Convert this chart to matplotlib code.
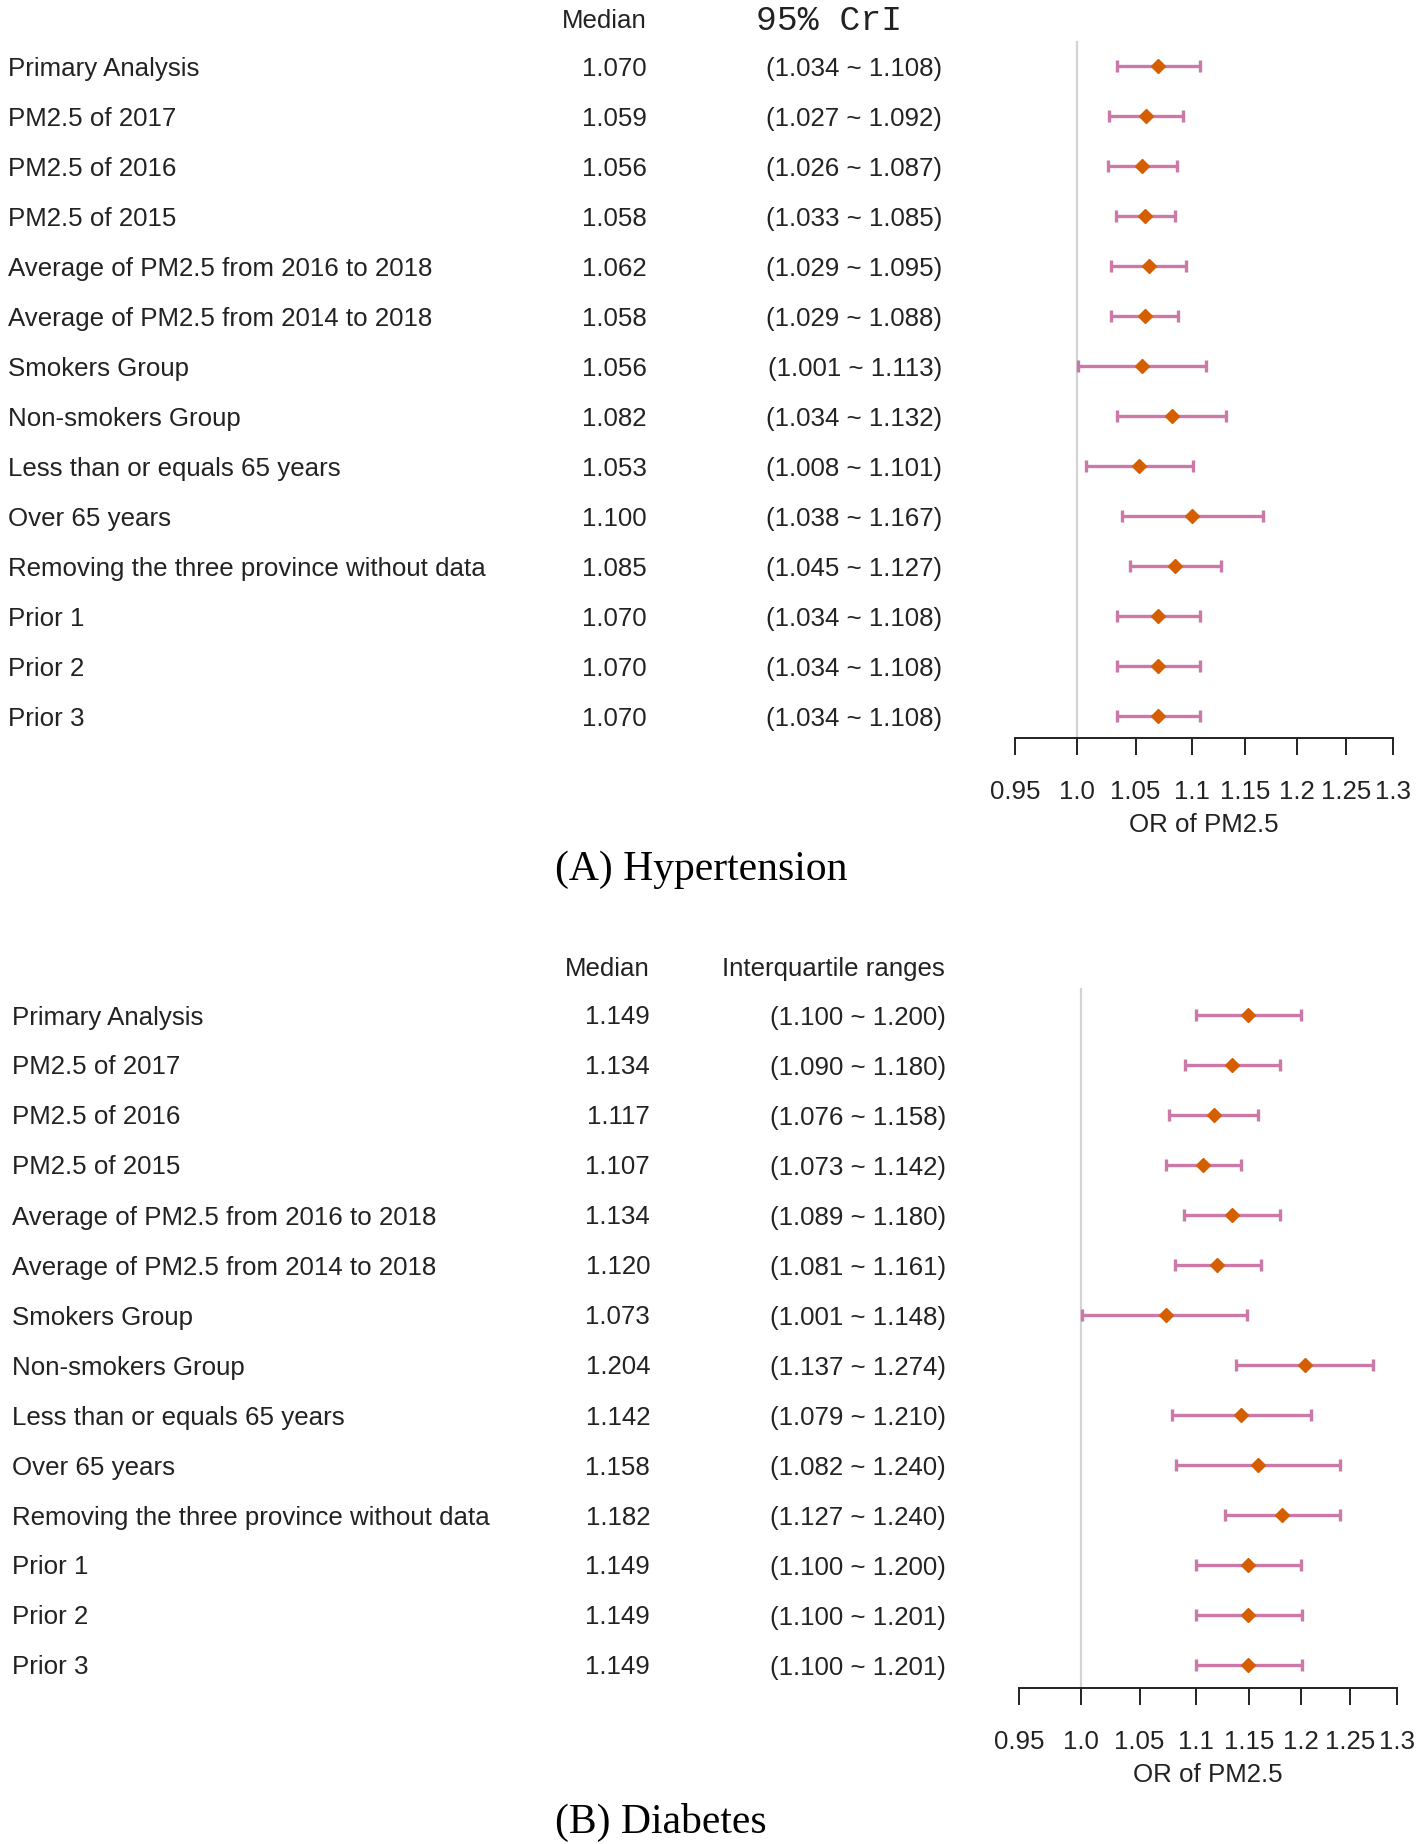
import numpy as np
import matplotlib
matplotlib.use("Agg")
import matplotlib.pyplot as plt
from matplotlib.ticker import FixedLocator, NullLocator
from matplotlib.transforms import blended_transform_factory

# row labels (same for both panels)
labels = [
    "Primary Analysis",
    "PM2.5 of 2017",
    "PM2.5 of 2016",
    "PM2.5 of 2015",
    "Average of PM2.5 from 2016 to 2018",
    "Average of PM2.5 from 2014 to 2018",
    "Smokers Group",
    "Non-smokers Group",
    "Less than or equals 65 years",
    "Over 65 years",
    "Removing the three province without data",
    "Prior 1",
    "Prior 2",
    "Prior 3",
]

# (A) Hypertension: median and 95% CrI
hyp_median = [1.070, 1.059, 1.056, 1.058, 1.062, 1.058, 1.056, 1.082, 1.053, 1.100, 1.085, 1.070, 1.070, 1.070]
hyp_low = [1.034, 1.027, 1.026, 1.033, 1.029, 1.029, 1.001, 1.034, 1.008, 1.038, 1.045, 1.034, 1.034, 1.034]
hyp_high = [1.108, 1.092, 1.087, 1.085, 1.095, 1.088, 1.113, 1.132, 1.101, 1.167, 1.127, 1.108, 1.108, 1.108]

# (B) Diabetes: median and interquartile ranges
dia_median = [1.149, 1.134, 1.117, 1.107, 1.134, 1.120, 1.073, 1.204, 1.142, 1.158, 1.182, 1.149, 1.149, 1.149]
dia_low = [1.100, 1.090, 1.076, 1.073, 1.089, 1.081, 1.001, 1.137, 1.079, 1.082, 1.127, 1.100, 1.100, 1.100]
dia_high = [1.200, 1.180, 1.158, 1.142, 1.180, 1.161, 1.148, 1.274, 1.210, 1.240, 1.240, 1.200, 1.201, 1.201]

x_ticks = [0.95, 1.0, 1.05, 1.1, 1.15, 1.2, 1.25, 1.3]
x_ticklabels = ["0.95", "1.0", "1.05", "1.1", "1.15", "1.2", "1.25", "1.3"]

W, H = 1418, 1844
fig = plt.figure(figsize=(W / 100, H / 100), dpi=100)

SANS = "Liberation Sans"
TXT = "#222222"
PINK = "#CC79A7"
ORANGE = "#D55E00"
FS = 18.6
DY = 0.05  # small downward nudge so text sits on the row like the original


def px_box(left, right, top, bottom):
    return [left / W, 1 - bottom / H, (right - left) / W, (bottom - top) / H]


def forest(box, ylim, lab_x, med_x, ci_x, ci_head, ci_font, ci_head_x, head_row,
           median, low, high, title, title_y):
    ax = fig.add_axes(box)
    rows = np.arange(len(labels))
    med = np.array(median)
    lo = np.array(low)
    hi = np.array(high)

    ax.axvline(1.0, color="#d3d3d3", lw=1.6, zorder=0)
    ax.errorbar(med, rows, xerr=[med - lo, hi - med], fmt="none", ecolor=PINK,
                elinewidth=2.4, capsize=4.5, capthick=2.4, zorder=2)
    ax.plot(med, rows, "D", color=ORANGE, ms=7, zorder=3)

    ax.set_xscale("log")
    ax.set_xlim(0.95, 1.3)
    ax.set_ylim(*ylim)
    ax.xaxis.set_major_locator(FixedLocator(x_ticks))
    ax.xaxis.set_minor_locator(NullLocator())
    ax.set_xticklabels(x_ticklabels, fontsize=FS, family=SANS, color=TXT)
    ax.tick_params(axis="x", length=12, width=1.4, pad=18, color="#222222")
    ax.set_yticks([])
    for s in ["top", "left", "right"]:
        ax.spines[s].set_visible(False)
    ax.spines["bottom"].set_linewidth(1.4)
    ax.spines["bottom"].set_color("#222222")
    ax.set_xlabel("OR of PM2.5", fontsize=FS, family=SANS, color=TXT, labelpad=7)

    tr = blended_transform_factory(fig.transFigure, ax.transData)
    for i, lab in enumerate(labels):
        ax.text(lab_x / W, i + DY, lab, transform=tr, ha="left", va="center",
                fontsize=FS, family=SANS, color=TXT)
        ax.text(med_x / W, i + DY, "%.3f" % median[i], transform=tr, ha="right",
                va="center", fontsize=FS, family=SANS, color=TXT)
        ax.text(ci_x / W, i + DY, "(%.3f ~ %.3f)" % (low[i], high[i]), transform=tr,
                ha="right", va="center", fontsize=FS, family=SANS, color=TXT)

    ax.text(med_x / W, head_row + DY, "Median", transform=tr, ha="right", va="center",
            fontsize=FS, family=SANS, color=TXT)
    if ci_font == "mono":
        ax.text(ci_head_x / W, head_row + DY, ci_head, transform=tr, ha="center",
                va="center", fontsize=25, family="Liberation Mono", color=TXT)
    else:
        ax.text(ci_head_x / W, head_row + DY, ci_head, transform=tr, ha="right",
                va="center", fontsize=FS, family=SANS, color=TXT)

    fig.text(555 / W, 1 - title_y / H, title, ha="left", va="center",
             fontsize=30, family="Liberation Serif", color="black")
    return ax


forest(px_box(1015, 1393, 41, 738), (13.44, -0.5), 8, 647, 942,
       "95% CrI", "mono", 829, -0.96,
       hyp_median, hyp_low, hyp_high, "(A) Hypertension", 870)

forest(px_box(1019, 1397, 988, 1688), (13.46, -0.54), 12, 650, 946,
       "Interquartile ranges", "sans", 945, -0.98,
       dia_median, dia_low, dia_high, "(B) Diabetes", 1822)

fig.savefig("out.png", dpi=100, facecolor="white")
